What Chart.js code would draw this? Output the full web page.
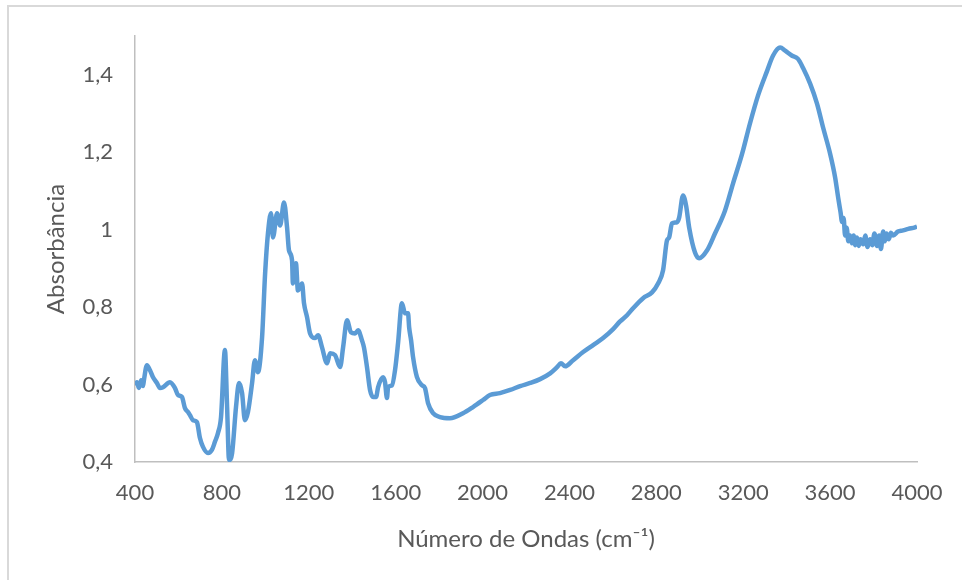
<!DOCTYPE html>
<html>
<head>
<meta charset="utf-8">
<script src="https://cdn.jsdelivr.net/npm/chart.js@4/dist/chart.umd.min.js"></script>
<style>
  html, body { margin: 0; padding: 0; background: #fff; overflow: hidden; }
  #frame { position: absolute; left: 7px; top: 5px; width: 1000px; height: 620px; border: 2px solid #d9d9d9; }
  #wrap { position: absolute; left: 0; top: 0; width: 962px; height: 580px; }
</style>
</head>
<body>
<div id="frame"></div>
<div id="wrap"><canvas id="ftir" width="962" height="580"></canvas></div>
<script>
const waveNumbers = [
  400, 409, 418, 428, 437, 441, 455, 469, 483, 501, 515, 529, 561, 584, 598, 616, 630, 644, 653, 667,
  685, 699, 713, 736, 754, 768, 782, 796, 814, 824, 833, 847, 865, 879, 893, 906, 920, 939, 952, 966,
  985, 999, 1012, 1026, 1035, 1054, 1068, 1086, 1100, 1109, 1123, 1127, 1141, 1150, 1169, 1178, 1192, 1206, 1229, 1243,
  1261, 1284, 1298, 1321, 1344, 1358, 1376, 1394, 1413, 1427, 1445, 1454, 1468, 1482, 1496, 1510, 1519, 1542, 1551, 1560,
  1565, 1583, 1597, 1611, 1629, 1643, 1657, 1662, 1671, 1680, 1698, 1721, 1735, 1749, 1772, 1804, 1850, 1910, 1956, 2002,
  2034, 2080, 2127, 2173, 2219, 2265, 2311, 2343, 2361, 2380, 2417, 2463, 2509, 2555, 2601, 2633, 2665, 2693, 2739, 2780,
  2808, 2831, 2849, 2859, 2872, 2895, 2905, 2923, 2937, 2951, 2978, 2997, 3033, 3070, 3116, 3153, 3195, 3231, 3268, 3310,
  3337, 3370, 3393, 3425, 3452, 3475, 3508, 3540, 3568, 3600, 3623, 3637, 3648, 3655, 3662, 3669, 3676, 3684, 3692, 3700,
  3708, 3716, 3724, 3732, 3740, 3752, 3762, 3772, 3784, 3794, 3804, 3816, 3826, 3834, 3844, 3852, 3860, 3870, 3880, 3890,
  3912, 3936, 3960, 3991, 4000
];
const absorbance = [
  0.598, 0.606, 0.591, 0.611, 0.596, 0.611, 0.650, 0.637, 0.619, 0.604, 0.591, 0.593, 0.606, 0.591, 0.573, 0.568, 0.539, 0.529, 0.521, 0.508,
  0.503, 0.462, 0.439, 0.423, 0.431, 0.452, 0.475, 0.516, 0.689, 0.542, 0.405, 0.423, 0.542, 0.604, 0.578, 0.508, 0.529, 0.604, 0.663, 0.632,
  0.722, 0.887, 0.990, 1.042, 0.980, 1.042, 1.011, 1.070, 1.006, 0.946, 0.921, 0.861, 0.913, 0.843, 0.861, 0.810, 0.774, 0.732, 0.720, 0.727,
  0.696, 0.655, 0.681, 0.676, 0.645, 0.696, 0.766, 0.735, 0.732, 0.740, 0.714, 0.696, 0.645, 0.586, 0.568, 0.568, 0.593, 0.619, 0.606, 0.565,
  0.593, 0.598, 0.637, 0.707, 0.810, 0.784, 0.784, 0.748, 0.714, 0.671, 0.619, 0.598, 0.591, 0.552, 0.526, 0.516, 0.513, 0.526, 0.542, 0.560,
  0.573, 0.578, 0.586, 0.596, 0.604, 0.614, 0.629, 0.645, 0.655, 0.647, 0.663, 0.684, 0.702, 0.720, 0.743, 0.763, 0.779, 0.797, 0.823, 0.838,
  0.861, 0.895, 0.972, 0.980, 1.016, 1.019, 1.031, 1.088, 1.062, 1.006, 0.941, 0.926, 0.946, 0.990, 1.049, 1.119, 1.196, 1.274, 1.346, 1.410,
  1.449, 1.470, 1.462, 1.449, 1.441, 1.418, 1.377, 1.325, 1.263, 1.196, 1.135, 1.083, 1.045, 1.020, 1.030, 0.985, 1.005, 0.970, 0.985, 0.965,
  0.985, 0.960, 0.980, 0.958, 0.975, 0.962, 0.985, 0.955, 0.975, 0.960, 0.990, 0.958, 0.985, 0.950, 0.995, 0.970, 0.990, 0.975, 0.992, 0.985,
  0.995, 0.998, 1.002, 1.006, 1.008
];
const xTicks = [400, 800, 1200, 1600, 2000, 2400, 2800, 3200, 3600, 4000];
const yTicks = [0.4, 0.6, 0.8, 1, 1.2, 1.4];

const points = waveNumbers.map((x, i) => ({ x, y: absorbance[i] }));
const textColor = '#595959';
const font = { family: 'Lato, "Open Sans", sans-serif', size: 22 };
const titleFont = { family: 'Lato, "Open Sans", sans-serif', size: 24 };

new Chart(document.getElementById('ftir').getContext('2d'), {
  type: 'line',
  data: {
    datasets: [{
      data: points,
      borderColor: '#5b9bd5',
      borderWidth: 4.5,
      pointRadius: 0,
      fill: false,
      cubicInterpolationMode: 'monotone'
    }]
  },
  options: {
    responsive: false,
    animation: false,
    layout: { padding: { left: 38, right: 45, top: 36, bottom: 22 } },
    plugins: { legend: { display: false }, tooltip: { enabled: false } },
    scales: {
      x: {
        type: 'linear',
        min: 400,
        max: 4000,
        afterBuildTicks: (s) => { s.ticks = xTicks.map((v) => ({ value: v })); },
        afterFit: (s) => { s.height = 580 - 462 - 22; },
        grid: { display: false, drawTicks: false },
        border: { display: true, color: '#bfbfbf', width: 1.5 },
        ticks: { color: textColor, font, padding: 18, maxRotation: 0, autoSkip: false, callback: (v) => String(v) },
        title: { display: true, text: 'Número de Ondas (cm⁻¹)', color: textColor, font: titleFont, padding: { top: 4, bottom: 4 } }
      },
      y: {
        min: 0.4,
        max: 1.5,
        afterBuildTicks: (s) => { s.ticks = yTicks.map((v) => ({ value: v })); },
        afterFit: (s) => { s.width = 135 - 38; },
        grid: { display: false, drawTicks: false },
        border: { display: true, color: '#bfbfbf', width: 1.5 },
        ticks: {
          color: textColor, font, padding: 22, autoSkip: false,
          callback: (v) => String(Math.round(v * 10) / 10).replace('.', ',')
        },
        title: { display: true, text: 'Absorbância', color: textColor, font: titleFont, padding: { top: 4, bottom: 4 } }
      }
    }
  }
});
</script>
</body>
</html>
